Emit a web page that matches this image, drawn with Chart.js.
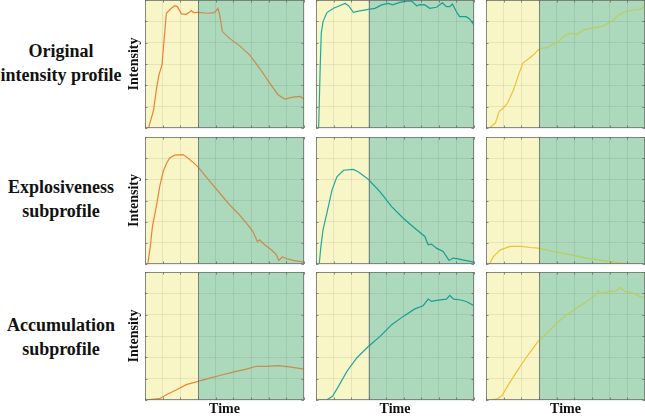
<!DOCTYPE html>
<html><head><meta charset="utf-8">
<script src="https://cdn.jsdelivr.net/npm/chart.js@4.4.0/dist/chart.umd.min.js"></script>
<style>
html,body{margin:0;padding:0;background:#fff;}
#wrap{position:relative;width:645px;height:416px;overflow:hidden;background:#fff;}
#wrap canvas{position:absolute;}
.lab{position:absolute;left:0;width:122px;text-align:center;font-family:"Liberation Serif","Times New Roman",serif;font-weight:bold;font-size:18px;line-height:24px;color:#111;white-space:nowrap;}
</style></head><body>
<div id="wrap"></div>
<script>
// ---------- data ----------
const rowLabels = [["Original","intensity profile"],["Explosiveness","subprofile"],["Accumulation","subprofile"]];
const yTitle = "Intensity";
const xTitle = "Time";
const phaseSplit = 3;      // end of the first (yellow) phase on the time axis
const timeMax = 9;
const intensityMax = 6;

const origOrangeX = [0.21,0.49,0.64,0.79,0.96,1.08,1.21,1.49,1.68,1.83,2.06,2.34,2.62,2.76,3.0,3.57,3.94,4.13,4.23,4.38,4.79,5.36,5.92,6.49,7.06,7.53,7.91,8.38,8.75,9.0];
const origOrangeY = [0.03,0.85,1.79,2.49,2.96,4.13,5.38,5.61,5.73,5.69,5.35,5.33,5.5,5.41,5.42,5.38,5.41,5.61,5.3,4.52,4.2,3.85,3.43,2.8,2.1,1.56,1.36,1.45,1.48,1.37];
const origTealX = [0.15,0.24,0.30,0.40,0.62,1.0,1.66,1.85,2.13,2.42,2.98,3.36,3.74,4.12,4.37,4.78,5.16,5.45,5.73,5.92,6.2,6.48,6.86,7.2,7.43,7.62,7.77,8.0,8.18,8.56,8.75,9.0];
const origTealY = [0,2.88,4.44,4.99,5.41,5.61,5.84,5.73,5.42,5.48,5.56,5.61,5.77,5.84,5.77,5.89,5.95,5.95,5.73,5.78,5.77,5.61,5.66,5.87,5.69,5.69,5.81,5.45,5.22,5.22,5.11,4.83];
const origYellowX = [0.24,0.53,0.75,0.99,1.22,1.56,1.84,2.09,2.32,2.69,2.95,3.16,3.45,3.73,4.1,4.38,4.76,5.14,5.51,5.89,6.27,6.64,6.93,7.21,7.49,7.87,8.34,8.71,8.9,9.0];
const origYellowY = [0.05,0.23,0.78,0.94,1.17,1.79,2.49,3.04,3.19,3.43,3.66,3.74,3.77,3.89,4.05,4.28,4.44,4.39,4.59,4.67,4.72,4.78,4.91,5.06,5.3,5.45,5.53,5.56,5.66,5.61];

const explOrangeX = [0.17,0.3,0.42,0.64,0.83,1.02,1.21,1.4,1.68,2.15,2.43,2.72,3.0,3.38,3.85,4.32,4.79,5.26,5.74,6.11,6.36,6.49,6.77,7.15,7.43,7.58,7.77,8.0,8.37,9.0];
const explOrangeY = [0.05,0.83,1.77,2.71,3.65,4.35,4.75,5.01,5.14,5.17,5.01,4.8,4.59,4.2,3.73,3.26,2.79,2.4,1.93,1.53,1.06,1.14,0.91,0.67,0.44,0.17,0.33,0.26,0.17,0.09];
const explTealX = [0.19,0.28,0.4,0.62,0.91,1.19,1.57,2.13,2.42,2.98,3.65,4.31,4.97,5.63,6.2,6.39,6.58,6.86,7.24,7.58,7.81,8.09,8.56,9.0];
const explTealY = [0.05,0.83,1.61,2.4,3.49,4.12,4.43,4.47,4.35,4.0,3.41,2.71,2.16,1.69,1.3,0.91,0.94,0.75,0.59,0.17,0.28,0.24,0.16,0.09];
const explYellowX = [0.19,0.43,0.81,1.37,2.03,2.5,2.95,3.82,4.76,5.7,6.64,7.59,8.34,9.0];
const explYellowY = [0,0.36,0.67,0.83,0.83,0.78,0.75,0.59,0.44,0.28,0.16,0.05,0,0];

const accOrangeX = [0.08,0.83,1.21,1.78,2.34,3.0,3.57,4.23,4.98,5.74,6.3,6.87,7.53,8.19,9.0];
const accOrangeY = [0.01,0.06,0.25,0.48,0.72,0.87,1.0,1.15,1.31,1.45,1.58,1.58,1.61,1.55,1.45];
const accTealX = [0.19,0.62,0.94,1.28,1.76,2.32,2.98,3.65,4.31,4.97,5.63,6.1,6.39,6.58,6.86,7.43,7.62,7.84,8.18,8.56,9.0];
const accTealY = [0,0.01,0.17,0.64,1.34,1.97,2.51,2.98,3.53,3.92,4.27,4.42,4.73,4.62,4.67,4.73,4.9,4.73,4.7,4.62,4.42];
const accYellowX = [0.24,0.62,0.9,1.27,1.75,2.32,2.95,3.45,4.01,4.58,5.14,5.7,6.17,6.36,6.55,7.02,7.4,7.59,7.87,8.34,8.71,9.0];
const accYellowY = [0,0.05,0.2,0.72,1.34,2.05,2.75,3.14,3.61,4.0,4.31,4.62,4.89,5.12,5.01,5.09,5.12,5.28,5.09,5.01,4.86,4.78];

// ---------- styling / layout ----------
const lineColors = [
  {a:'#ee8232', b:'#c98c4c'},   // orange
  {a:'#1fa9a0', b:'#179f95'},   // teal
  {a:'#f1c035', b:'#b9cf57'}    // yellow
];
const series = [
  [[origOrangeX,origOrangeY],[origTealX,origTealY],[origYellowX,origYellowY]],
  [[explOrangeX,explOrangeY],[explTealX,explTealY],[explYellowX,explYellowY]],
  [[accOrangeX,accOrangeY],[accTealX,accTealY],[accYellowX,accYellowY]]
];
const colLeft = [145,316,486], colRight=[304,474,645];
const rowTop = [0,137,272], rowBottom=[128,264,400];
const labelTops = [39,175,313];
const canvasLeft0 = 118, figH = 416;

const wrap = document.getElementById('wrap');
rowLabels.forEach((lines,r)=>{
  const d = document.createElement('div');
  d.className='lab'; d.style.top = labelTops[r]+'px';
  d.innerHTML = lines.join('<br>');
  wrap.appendChild(d);
});

const decoPlugin = {
  id:'deco',
  beforeDraw(chart){
    const {ctx, chartArea:a, scales:{x}} = chart;
    const xs = x.getPixelForValue(phaseSplit);
    ctx.save();
    ctx.fillStyle = '#f8f6c6';
    ctx.fillRect(a.left, a.top, xs - a.left, a.bottom - a.top);
    ctx.fillStyle = '#acd8bc';
    ctx.fillRect(xs, a.top, a.right - xs, a.bottom - a.top);
    ctx.restore();
  },
  afterDraw(chart){
    const {ctx, chartArea:a, scales:{x,y}} = chart;
    const xs = Math.round(x.getPixelForValue(phaseSplit)) + 0.5;
    ctx.save();
    ctx.strokeStyle = 'rgba(100,110,100,0.75)';
    ctx.lineWidth = 1;
    ctx.beginPath(); ctx.moveTo(xs, a.top); ctx.lineTo(xs, a.bottom); ctx.stroke();
    // inner ticks
    ctx.strokeStyle = 'rgba(90,90,90,0.7)';
    ctx.beginPath();
    x.ticks.forEach(t=>{
      const px = Math.round(x.getPixelForValue(t.value))+0.5;
      ctx.moveTo(px, a.bottom); ctx.lineTo(px, a.bottom-2.5);
      ctx.moveTo(px, a.top); ctx.lineTo(px, a.top+2.5);
    });
    y.ticks.forEach(t=>{
      const py = Math.round(y.getPixelForValue(t.value))+0.5;
      ctx.moveTo(a.left, py); ctx.lineTo(a.left+2.5, py);
      ctx.moveTo(a.right, py); ctx.lineTo(a.right-2.5, py);
    });
    ctx.stroke();
    ctx.strokeStyle = 'rgba(110,115,110,0.8)';
    ctx.strokeRect(a.left+0.5, a.top+0.5, a.right-a.left-1, a.bottom-a.top-1);
    ctx.restore();
  }
};

for (let r=0;r<3;r++){
  for (let c=0;c<3;c++){
    const cx0 = c===0 ? canvasLeft0 : colLeft[c]-2;
    const cx1 = colRight[c]+2;
    const cy0 = rowTop[r]-2;
    const cy1 = r===2 ? figH : rowBottom[r]+2;
    const cv = document.createElement('canvas');
    cv.width = cx1-cx0; cv.height = cy1-cy0;
    cv.style.left = cx0+'px'; cv.style.top = cy0+'px';
    cv.style.width = (cx1-cx0)+'px'; cv.style.height = (cy1-cy0)+'px';
    wrap.appendChild(cv);
    const [xs, ys] = series[r][c];
    const col = lineColors[c];
    const yAxisW = c===0 ? colLeft[0]-canvasLeft0 : 0;
    const xAxisH = r===2 ? figH-rowBottom[2] : 0;
    new Chart(cv, {
      type:'line',
      data:{ datasets:[{
        data: xs.map((v,i)=>({x:v, y:ys[i]})),
        borderColor: col.a,
        borderWidth: 1.2,
        pointRadius: 0,
        tension: 0,
        fill: false,
        segment:{ borderColor: ctx => ((ctx.p0.parsed.x + ctx.p1.parsed.x)/2 >= phaseSplit ? col.b : col.a) }
      }]},
      options:{
        responsive:false, animation:false, devicePixelRatio:1,
        layout:{ padding:{ left: c===0?0:2, right:2, top:2, bottom: r===2?0:2 } },
        plugins:{ legend:{display:false}, tooltip:{enabled:false} },
        scales:{
          x:{ type:'linear', min:0, max:timeMax,
              ticks:{ display:false, stepSize:1 },
              grid:{ color:'rgba(0,0,0,0.07)', drawTicks:false, lineWidth:1 },
              border:{ display:false },
              title:{ display: r===2, text:xTitle, color:'#111',
                      font:{ family:'"Liberation Serif","Times New Roman",serif', size:14, weight:'bold', lineHeight:0.93 },
                      padding:{top:0,bottom:0} },
              afterFit: s => { s.height = xAxisH; } },
          y:{ min:0, max:intensityMax,
              ticks:{ display:false, stepSize:1 },
              grid:{ color:'rgba(0,0,0,0.07)', drawTicks:false, lineWidth:1 },
              border:{ display:false },
              title:{ display: c===0, text:yTitle, color:'#111',
                      font:{ family:'"Liberation Serif","Times New Roman",serif', size:14, weight:'bold', lineHeight:1.1 },
                      padding:{top:8.6,bottom:0} },
              afterFit: s => { s.width = yAxisW; } }
        }
      },
      plugins:[decoPlugin]
    });
  }
}
</script>
</body></html>
